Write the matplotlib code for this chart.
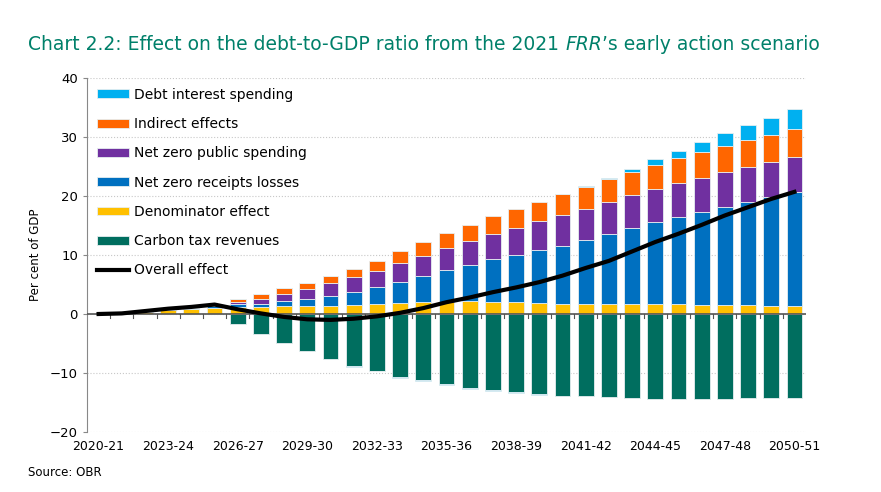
import matplotlib.pyplot as plt
import numpy as np

years = ['2020-21', '2021-22', '2022-23', '2023-24', '2024-25', '2025-26', '2026-27',
         '2027-28', '2028-29', '2029-30', '2030-31', '2031-32', '2032-33', '2033-34',
         '2034-35', '2035-36', '2036-37', '2037-38', '2038-39', '2039-40', '2040-41',
         '2041-42', '2042-43', '2043-44', '2044-45', '2045-46', '2046-47', '2047-48',
         '2048-49', '2049-50', '2050-51']

# per cent of GDP
carbon = [0, 0, 0, 0, 0, 0, -1.7, -3.4, -4.9, -6.3, -7.6, -8.8, -9.6, -10.6, -11.2, -11.9,
          -12.5, -12.9, -13.3, -13.6, -13.85, -13.95, -14.1, -14.3, -14.4, -14.4, -14.4,
          -14.35, -14.3, -14.3, -14.2]
denominator = [0, 0.1, 0.4, 0.7, 0.9, 1.1, 1.2, 1.15, 1.3, 1.4, 1.4, 1.6, 1.7, 1.8, 2.0, 2.1,
               2.15, 2.0, 2.0, 1.8, 1.7, 1.65, 1.65, 1.65, 1.65, 1.65, 1.6, 1.5, 1.5, 1.35, 1.3]
receipts = [0, 0, 0, 0, 0.1, 0.3, 0.5, 0.55, 0.85, 1.1, 1.7, 2.2, 2.8, 3.7, 4.5, 5.3,
            6.15, 7.3, 8.0, 9.0, 9.9, 10.95, 11.95, 12.95, 13.95, 14.75, 15.7, 16.7, 17.5,
            18.45, 19.4]
public = [0, 0, 0, 0, 0, 0.1, 0.3, 0.8, 1.25, 1.7, 2.1, 2.4, 2.8, 3.1, 3.4, 3.8,
          4.1, 4.3, 4.6, 4.9, 5.1, 5.25, 5.4, 5.5, 5.6, 5.8, 5.8, 5.9, 5.9, 6.0, 5.9]
indirect = [0, 0, 0, 0, 0, 0, 0.5, 0.9, 0.95, 1.1, 1.2, 1.5, 1.7, 2.0, 2.3, 2.5,
            2.7, 2.95, 3.25, 3.3, 3.6, 3.65, 3.8, 4.0, 4.05, 4.3, 4.4, 4.4, 4.6, 4.6, 4.7]
interest = [0, 0, 0, 0, 0, 0, 0, 0, 0, 0, 0, -0.1, -0.1, -0.2, -0.2, -0.2,
            -0.2, -0.15, -0.1, -0.05, 0.1, 0.2, 0.3, 0.5, 0.95, 1.2, 1.6, 2.1, 2.5, 2.9, 3.5]
overall = [0, 0.1, 0.5, 0.9, 1.2, 1.6, 0.8, 0.1, -0.5, -0.9, -1.0, -0.8, -0.4, 0.2, 1.0, 2.0,
           2.8, 3.7, 4.5, 5.4, 6.5, 7.8, 9.0, 10.6, 12.2, 13.6, 15.1, 16.7, 18.1, 19.5, 20.7]

teal = '#006e5f'
x = np.arange(len(years))
w = 0.68

fig = plt.figure(figsize=(8.81, 4.92), dpi=100)
ax = fig.add_axes([87 / 881, 1 - 432 / 492, 719 / 881, 354 / 492])

edge = dict(edgecolor='#e6eef0', linewidth=0.6)
pos = np.zeros(len(x))
neg = np.zeros(len(x))
bars = {}
series = [('Carbon tax revenues', carbon, teal),
          ('Denominator effect', denominator, '#ffc000'),
          ('Net zero receipts losses', receipts, '#0070c0'),
          ('Net zero public spending', public, '#7030a0'),
          ('Indirect effects', indirect, '#ff6600'),
          ('Debt interest spending', interest, '#00b0f0')]
for name, vals, col in series:
    v = np.array(vals, dtype=float)
    base = np.where(v >= 0, pos, neg)
    bars[name] = ax.bar(x, v, w, bottom=base, color=col, label=name, zorder=2, **edge)
    pos = pos + np.where(v >= 0, v, 0)
    neg = neg + np.where(v < 0, v, 0)

line, = ax.plot(x, overall, color='black', lw=3, zorder=4, label='Overall effect')

ax.set_xlim(-0.5, 30.5)
ax.set_ylim(-20, 40)
ax.set_yticks(range(-20, 41, 10))
ax.grid(axis='y', color='#c8c8c8', linestyle=':', linewidth=0.8, zorder=0)
ax.axhline(0, color='#555555', lw=1.2, zorder=3)

ax.set_xticks(x[::3])
ax.set_xticklabels(years[::3])
ax.tick_params(axis='x', length=0, pad=6, labelsize=9)
ax.tick_params(axis='y', length=3, color='#888888', labelsize=9.5)
# small ticks between bars on the zero line
for b in x[:-1] + 0.5:
    ax.plot([b, b], [0, -0.7], color='#555555', lw=0.8, zorder=3)

for s in ['top', 'right', 'bottom']:
    ax.spines[s].set_visible(False)
ax.spines['left'].set_color('#888888')

ax.set_ylabel('Per cent of GDP', fontsize=8.5, labelpad=6)

handles = [bars[n] for n in ['Debt interest spending', 'Indirect effects',
                             'Net zero public spending', 'Net zero receipts losses',
                             'Denominator effect', 'Carbon tax revenues']] + [line]
ax.legend(handles=handles, loc='upper left', bbox_to_anchor=(0.0, 1.0), frameon=False,
          fontsize=10, labelspacing=1.1, handlelength=2.3, handleheight=0.6,
          handletextpad=0.35, borderaxespad=0.3)

title_color = '#00806a'
ty = 1 - 45 / 492
fig.text(28 / 881, ty, 'Chart 2.2: Effect on the debt-to-GDP ratio from the 2021 ',
         color=title_color, fontsize=13.5, va='center', ha='left')
fig.canvas.draw()
bb = fig.texts[0].get_window_extent()
fig.text(bb.x1 / 881, ty, "FRR", color=title_color, fontsize=13.5, va='center',
         ha='left', style='italic')
fig.canvas.draw()
bb2 = fig.texts[1].get_window_extent()
fig.text(bb2.x1 / 881, ty, "\u2019s early action scenario", color=title_color,
         fontsize=13.5, va='center', ha='left')

fig.text(28 / 881, 1 - 473 / 492, 'Source: OBR', fontsize=8.5, va='center')

fig.savefig('out.png', dpi=100)
